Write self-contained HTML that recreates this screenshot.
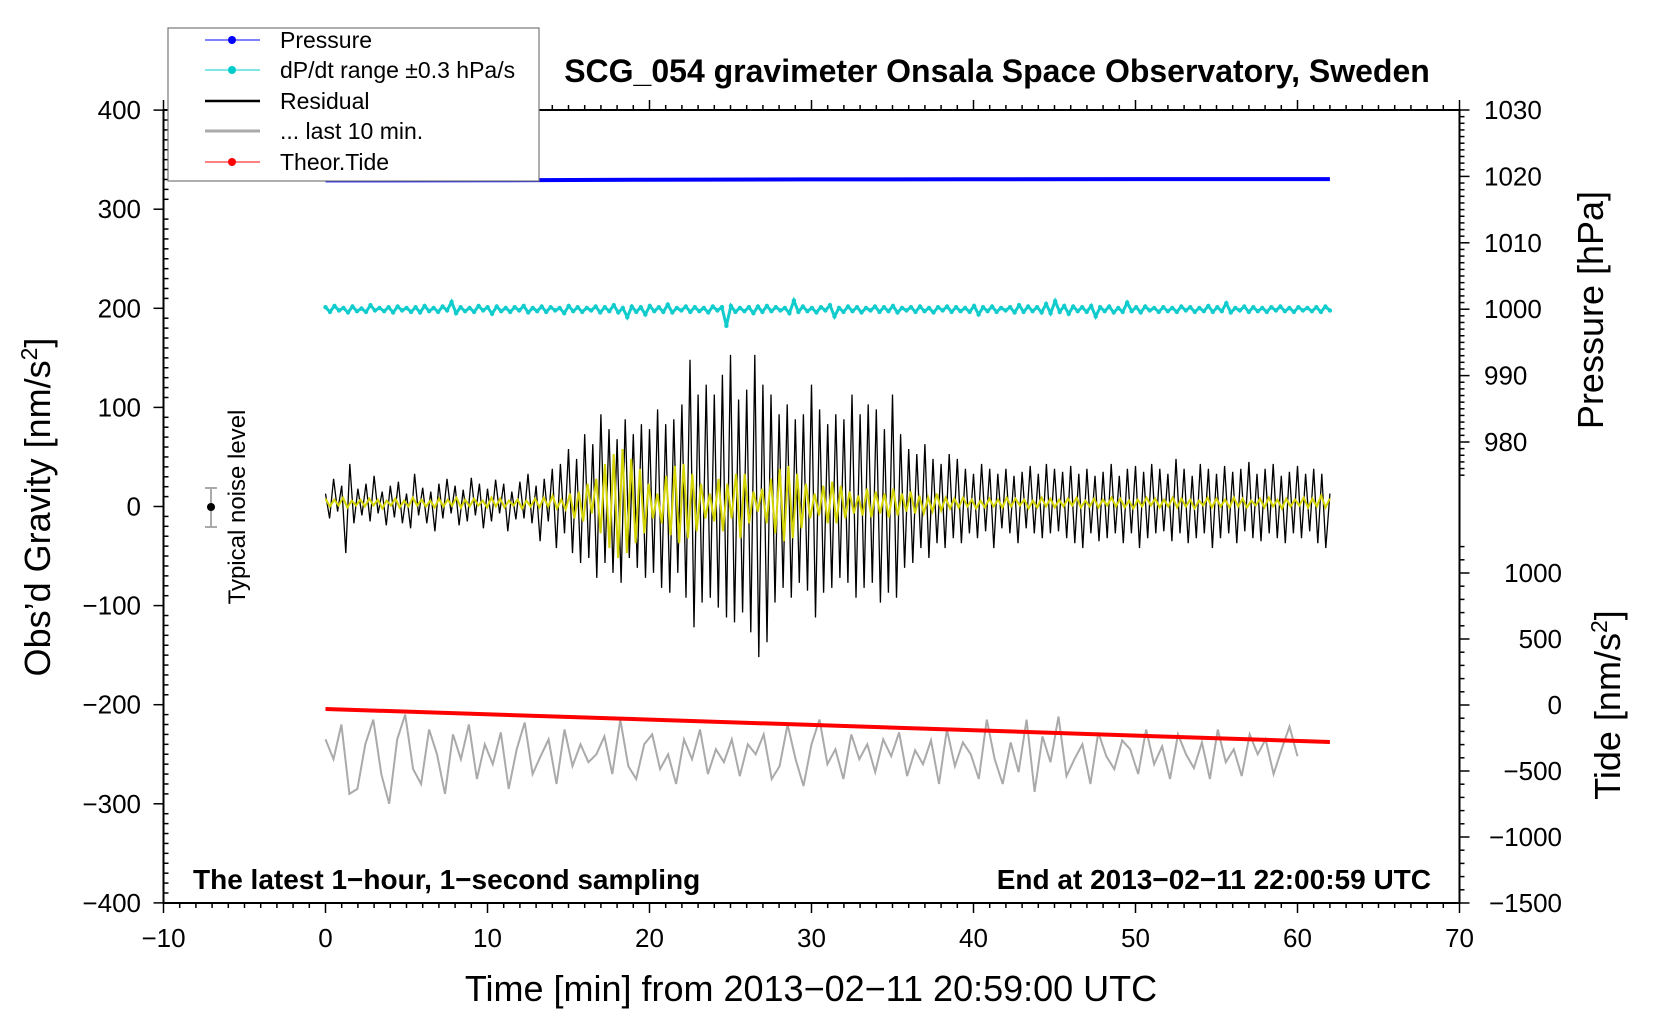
<!DOCTYPE html>
<html><head><meta charset="utf-8"><style>
body{margin:0;background:#fff}
svg{display:block;font-family:"Liberation Sans",sans-serif}
</style></head><body>
<svg id="chart" width="1660" height="1020" viewBox="0 0 1660 1020" xmlns="http://www.w3.org/2000/svg">
<g id="marks"></g>
<g id="axes"></g>
<rect x="163.5" y="110" width="1296" height="793" fill="none" stroke="#000" stroke-width="2"/>
<text x="997" y="82" font-size="32" font-weight="bold" text-anchor="middle">SCG_054 gravimeter Onsala Space Observatory, Sweden</text>
<text x="811" y="1001" font-size="36" text-anchor="middle">Time [min] from 2013−02−11 20:59:00 UTC</text>
<text transform="translate(50,507) rotate(-90)" font-size="36" text-anchor="middle">Obs’d Gravity [nm/s<tspan font-size="23" dy="-13">2</tspan><tspan dy="13">]</tspan></text>
<text transform="translate(1603,310) rotate(-90)" font-size="36" text-anchor="middle">Pressure [hPa]</text>
<text transform="translate(1620,705) rotate(-90)" font-size="36" text-anchor="middle">Tide [nm/s<tspan font-size="23" dy="-13">2</tspan><tspan dy="13">]</tspan></text>
<text x="193" y="889" font-size="28" font-weight="bold">The latest 1−hour, 1−second sampling</text>
<text x="1431" y="889" font-size="28" font-weight="bold" text-anchor="end">End at 2013−02−11 22:00:59 UTC</text>
<g>
<line x1="211" y1="488" x2="211" y2="527" stroke="#aaa" stroke-width="2"/>
<line x1="205" y1="488" x2="217" y2="488" stroke="#aaa" stroke-width="2"/>
<line x1="205" y1="527" x2="217" y2="527" stroke="#aaa" stroke-width="2"/>
<circle cx="211" cy="507" r="4" fill="#000"/>
<text transform="translate(245,507) rotate(-90)" font-size="24" text-anchor="middle">Typical noise level</text>
</g>
<g>
<rect x="168" y="28" width="371" height="153" fill="#fff" stroke="#777" stroke-width="1.2"/>
<g><line x1="205" y1="40" x2="260" y2="40" stroke="#00f" stroke-width="1"/><circle cx="232" cy="40" r="4" fill="#00f"/><text x="280" y="48" font-size="23">Pressure</text></g>
<g><line x1="205" y1="70" x2="260" y2="70" stroke="#0cc" stroke-width="1"/><circle cx="232" cy="70" r="4" fill="#0cc"/><text x="280" y="78" font-size="23">dP/dt range ±0.3 hPa/s</text></g>
<g><line x1="205" y1="101" x2="260" y2="101" stroke="#000" stroke-width="2.5"/><text x="280" y="109" font-size="23">Residual</text></g>
<g><line x1="205" y1="131" x2="260" y2="131" stroke="#aaa" stroke-width="3"/><text x="280" y="139" font-size="23">... last 10 min.</text></g>
<g><line x1="205" y1="162" x2="260" y2="162" stroke="#f00" stroke-width="1"/><circle cx="232" cy="162" r="4" fill="#f00"/><text x="280" y="170" font-size="23">Theor.Tide</text></g>
</g>
</svg>
<script>
const xTicks=[-10,0,10,20,30,40,50,60,70];
const gTicks=[400,300,200,100,0,-100,-200,-300,-400];
const pTicks=[1030,1020,1010,1000,990,980];
const tTicks=[1000,500,0,-500,-1000,-1500];
const pressureTimes=[0,10,20,30,40,50,62];
const pressureVals=[1019.4,1019.42,1019.5,1019.55,1019.56,1019.6,1019.6];
const tideTimes=[0,62];
const tideVals=[-30,-280];
const residualEnd=62;
const residualVals=[10,-15,25,-8,18,-50,40,-20,15,-12,20,-18,28,-10,12,-22,18,-14,22,-20,10,-25,30,-12,16,-20,12,-28,20,-15,25,-10,18,-22,14,-18,26,-12,20,-25,15,-18,24,-10,20,-28,12,-16,22,-15,30,-20,18,-38,25,-18,35,-45,40,-30,55,-50,45,-60,70,-55,60,-75,90,-60,75,-70,65,-80,85,-55,70,-65,80,-75,75,-70,95,-85,80,-90,85,-70,100,-95,145,-125,110,-100,120,-95,110,-105,130,-115,150,-120,105,-110,115,-130,150,-155,120,-140,110,-100,90,-85,100,-95,85,-80,90,-88,120,-115,95,-90,80,-85,90,-75,85,-80,110,-95,90,-85,100,-80,95,-100,75,-90,110,-95,70,-65,55,-60,50,-45,60,-55,45,-40,40,-45,50,-35,45,-40,35,-30,30,-35,40,-28,35,-45,30,-25,35,-30,28,-40,32,-25,38,-30,30,-35,40,-30,35,-28,32,-35,38,-40,30,-45,35,-30,28,-38,32,-35,40,-30,28,-40,35,-30,38,-45,32,-35,40,-30,35,-28,30,-38,45,-30,35,-40,28,-35,40,-30,35,-45,30,-35,38,-30,32,-40,35,-28,42,-35,30,-38,35,-30,40,-35,28,-40,32,-30,38,-35,30,-28,35,-40,30,-45,10];
const filteredEnd=62;
const filteredVals=[5,-3,4,-2,6,-4,3,-2,4,-3,5,-2,4,-5,3,-2,5,-4,3,-3,6,-2,4,-3,3,-4,5,-3,4,-2,6,-4,4,-3,5,-2,3,-4,6,-3,5,-4,3,-2,4,-5,3,-3,5,-4,6,-3,8,-5,4,-6,10,-15,12,-18,20,-10,25,-30,40,-45,50,-55,55,-50,45,-40,35,-30,20,-15,10,-20,28,-32,38,-40,40,-35,30,-28,20,-15,10,-18,25,-28,20,-15,30,-35,30,-20,12,-8,15,-20,25,-30,35,-38,38,-35,30,-25,20,-15,10,-12,18,-20,22,-20,18,-15,12,-10,8,-12,15,-14,12,-10,10,-14,15,-12,10,-8,12,-10,8,-10,6,-8,10,-7,6,-5,5,-4,6,-3,4,-5,3,-4,5,-3,4,-4,6,-3,5,-2,4,-5,3,-4,6,-3,5,-4,4,-3,5,-2,6,-4,3,-3,5,-4,4,-2,6,-3,5,-4,3,-5,4,-3,6,-2,5,-4,4,-3,6,-4,5,-3,4,-5,3,-2,6,-4,5,-3,4,-4,6,-3,5,-4,3,-2,5,-4,6,-3,4,-5,5,-3,4,-2,6,-4,5,-3,8,-4,5];
const last10End=60;
const last10Vals=[-235,-255,-220,-290,-285,-240,-215,-270,-300,-235,-210,-265,-280,-225,-250,-290,-230,-255,-220,-275,-240,-260,-228,-285,-245,-218,-270,-252,-235,-280,-225,-262,-240,-258,-250,-232,-270,-215,-262,-275,-240,-230,-265,-250,-280,-235,-255,-225,-270,-245,-258,-235,-272,-240,-250,-230,-275,-262,-220,-255,-282,-240,-215,-260,-245,-275,-230,-255,-240,-268,-235,-252,-228,-272,-246,-260,-236,-280,-225,-262,-238,-250,-275,-215,-255,-280,-238,-268,-215,-288,-232,-258,-212,-272,-255,-240,-280,-228,-252,-265,-236,-245,-270,-225,-260,-242,-275,-230,-250,-264,-238,-275,-225,-258,-245,-272,-230,-250,-235,-270,-245,-222,-252];
const dpdtEnd=62;
const dpdtVals=[1000.3,999.6,1000.5,999.8,1000.2,999.5,1000.4,999.7,1000.1,999.6,1000.6,999.8,1000.2,999.7,1000.3,999.5,1000.4,999.8,1000.2,999.6,1000.3,999.5,1000.5,999.7,1000.2,999.6,1000.4,999.8,1001.1,999.4,1000.3,999.7,1000.2,999.6,1000.5,999.8,1000.3,999.3,1000.4,999.7,1000.2,999.6,1000.3,999.8,1000.5,999.5,1000.2,999.7,1000.4,999.6,1000.3,999.8,1000.2,999.4,1000.5,999.7,1000.3,999.6,1000.2,999.8,1000.4,999.5,1000.3,999.7,1000.6,999.5,1000.2,998.8,1000.4,999.6,1000.3,999.2,1000.5,999.7,1000.3,999.6,1000.7,999.5,1000.2,999.8,1000.4,999.6,1000.3,999.7,1000.2,999.5,1000.4,999.8,1000.3,997.5,1000.5,999.6,1000.2,999.7,1000.3,999.4,1000.4,999.6,1000.5,999.7,1000.3,999.8,1000.2,999.4,1001.3,999.6,1000.4,999.7,1000.2,999.5,1000.3,999.8,1000.6,998.9,1000.2,999.6,1000.4,999.7,1000.3,999.5,1000.2,999.8,1000.4,999.6,1000.3,999.7,1000.5,999.5,1000.2,999.8,1000.3,999.6,1000.4,999.7,1000.2,999.5,1000.3,999.8,1000.4,999.6,1000.3,999.7,1000.2,999.6,1000.5,999.2,1000.3,999.7,1000.4,999.6,1000.2,999.8,1000.3,999.5,1000.6,999.6,1000.4,999.7,1000.3,999.5,1000.8,999.4,1001.2,999.6,1000.5,999.3,1000.4,999.7,1000.3,999.6,1000.5,998.9,1000.3,999.7,1000.4,999.5,1000.2,999.6,1001.0,999.7,1000.3,999.5,1000.4,999.8,1000.2,999.6,1000.3,999.7,1000.2,999.6,1000.4,999.8,1000.3,999.6,1000.2,999.7,1000.5,999.6,1000.3,999.7,1000.9,999.5,1000.2,999.8,1000.4,999.6,1000.3,999.7,1000.2,999.6,1000.3,999.8,1000.4,999.7,1000.2,999.6,1000.3,999.8,1000.2,999.7,1000.3,999.6,1000.4,999.8];

const X=t=>325.5+16.2*t;
const Yg=v=>506.5-0.991*v;
const Yp=p=>110+(1030-p)*6.64;
const Yt=v=>705-v*0.132;
const NS='http://www.w3.org/2000/svg';
const marks=document.getElementById('marks');
const axes=document.getElementById('axes');
function mk(tag,attrs,parent){const e=document.createElementNS(NS,tag);for(const k in attrs)e.setAttribute(k,attrs[k]);parent.appendChild(e);return e;}
const tAt=(i,arr,end)=>i*end/(arr.length-1);

let pts=last10Vals.map((v,i)=>X(tAt(i,last10Vals,last10End)).toFixed(1)+','+Yg(v).toFixed(1)).join(' ');
let el=mk('polyline',{points:pts,fill:'none',stroke:'#aaa','stroke-width':2},marks);


pts=tideTimes.map((t,i)=>X(t)+','+Yt(tideVals[i])).join(' ');
el=mk('polyline',{points:pts,fill:'none',stroke:'#f00','stroke-width':4},marks);


pts=pressureTimes.map((t,i)=>X(t)+','+Yp(pressureVals[i]).toFixed(1)).join(' ');
el=mk('polyline',{points:pts,fill:'none',stroke:'#00f','stroke-width':4},marks);


pts=dpdtVals.map((v,i)=>X(tAt(i,dpdtVals,dpdtEnd)).toFixed(1)+','+Yp(v).toFixed(1)).join(' ');
el=mk('polyline',{points:pts,fill:'none',stroke:'#1cc','stroke-width':3},marks);


dpdtVals.forEach((v,i)=>{const c=mk('circle',{cx:X(tAt(i,dpdtVals,dpdtEnd)).toFixed(1),cy:Yp(v).toFixed(1),r:2.2,fill:'#1cc'},marks);

});
pts=residualVals.map((v,i)=>X(tAt(i,residualVals,residualEnd)).toFixed(1)+','+Yg(v+3).toFixed(1)).join(' ');
el=mk('polyline',{points:pts,fill:'none',stroke:'#000','stroke-width':1.3},marks);


pts=filteredVals.map((v,i)=>X(tAt(i,filteredVals,filteredEnd)).toFixed(1)+','+Yg(v+3).toFixed(1)).join(' ');
el=mk('polyline',{points:pts,fill:'none',stroke:'#d4d400','stroke-width':2},marks);



for(let t=-10;t<=70;t+=1){const big=t%10===0;
mk('line',{x1:X(t),x2:X(t),y1:903,y2:903+(big?10:5),stroke:'#000','stroke-width':1.5},axes);
mk('line',{x1:X(t),x2:X(t),y1:110,y2:110-(big?10:5),stroke:'#000','stroke-width':1.5},axes);}
xTicks.forEach(t=>{const e=mk('text',{x:X(t),y:947,'font-size':26,'text-anchor':'middle'},axes);e.textContent=String(t).replace('-','−');

});
for(let v=-400;v<=400;v+=10){const big=v%100===0;
mk('line',{x1:163.5-(big?10:0),x2:163.5+(big?0:5),y1:Yg(v),y2:Yg(v),stroke:'#000','stroke-width':1.5},axes);}
gTicks.forEach(v=>{const e=mk('text',{x:141,y:Yg(v)+9,'font-size':26,'text-anchor':'end'},axes);e.textContent=String(v).replace('-','−');

});
for(let p=1030;p>=975;p-=1){const big=p%10===0;
mk('line',{x1:1459.5,x2:1459.5+(big?10:5),y1:Yp(p),y2:Yp(p),stroke:'#000','stroke-width':1.5},axes);}
pTicks.forEach(p=>{const e=mk('text',{x:1484,y:Yp(p)+9,'font-size':26},axes);e.textContent=p;

});
for(let v=1200;v>=-1500;v-=100){const big=v%500===0;
mk('line',{x1:1459.5,x2:1459.5+(big?10:5),y1:Yt(v),y2:Yt(v),stroke:'#000','stroke-width':1.5},axes);}
tTicks.forEach(v=>{const e=mk('text',{x:1562,y:Yt(v)+9,'font-size':26,'text-anchor':'end'},axes);e.textContent=String(v).replace('-','−');

});
</script>
</body></html>
